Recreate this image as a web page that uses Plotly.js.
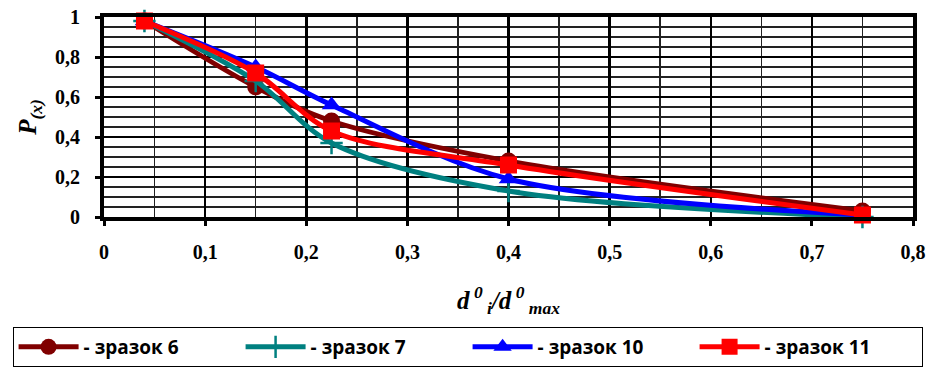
<!DOCTYPE html>
<html>
<head>
<meta charset="utf-8">
<script src="https://cdn.plot.ly/plotly-3.0.1.min.js"></script>
<style>html,body{margin:0;padding:0;background:#fff;}#chart{width:931px;height:367px;}</style>
</head>
<body>
<div id="chart"></div>
<script>
const xValues = [0.04, 0.15, 0.225, 0.4, 0.75];
const sample6 = [0.98, 0.65, 0.48, 0.28, 0.03];
const sample7 = [0.98, 0.68, 0.37, 0.13, 0.00];
const sample10 = [0.98, 0.75, 0.56, 0.19, 0.01];
const sample11 = [0.98, 0.72, 0.43, 0.26, 0.01];
const seriesNames = ['- зразок 6', '- зразок 7', '- зразок 10', '- зразок 11'];
const xTickVals = [0, 0.1, 0.2, 0.3, 0.4, 0.5, 0.6, 0.7, 0.8];
const yTickVals = [0, 0.2, 0.4, 0.6, 0.8, 1];

function tr(y, name, color, symbol, size, mline) {
  return {
    x: xValues, y: y, name: name, type: 'scatter', mode: 'lines+markers',
    line: {color: color, width: 5, shape: 'spline', smoothing: 0.9},
    marker: {symbol: symbol, size: size, color: color, line: mline || {width: 0}},
    cliponaxis: false
  };
}
const data = [
  tr(sample6, seriesNames[0], '#800000', 'circle', 17),
  tr(sample7, seriesNames[1], '#008080', 'cross-thin', 16, {width: 2.5, color: '#008080'}),
  tr(sample10, seriesNames[2], '#0000ff', 'triangle-up', 17),
  tr(sample11, seriesNames[3], '#ff0000', 'square', 17)
];
function serif(size) { return {family: 'Liberation Serif', size: size, color: '#000', weight: 'bold'}; }
const layout = {
  width: 931, height: 367,
  margin: {l: 104, r: 18, t: 17, b: 150, autoexpand: false},
  paper_bgcolor: '#fff', plot_bgcolor: '#fff',
  font: {family: 'Liberation Serif', size: 20, color: '#000'},
  separators: ', ',
  showlegend: true,
  xaxis: {
    range: [0, 0.8], tickvals: xTickVals,
    ticktext: xTickVals.map(v => String(v).replace('.', ',')),
    showline: true, linecolor: '#000', linewidth: 4, mirror: true,
    showgrid: true, gridcolor: '#000', gridwidth: 2.5,
    minor: {dtick: 0.05, tick0: 0, showgrid: true, gridcolor: '#222', gridwidth: 1.5},
    ticks: 'outside', ticklen: 5, tickwidth: 3, tickcolor: '#000',
    ticklabelstandoff: 9,
    tickfont: serif(20), zeroline: false,
    title: {text: '<i>d<sup> 0</sup><sub> i</sub>/d<sup> 0</sup><sub> max</sub></i>', font: serif(25), standoff: 30}
  },
  yaxis: {
    range: [0, 1], tickvals: yTickVals,
    ticktext: yTickVals.map(v => String(v).replace('.', ',')),
    showline: true, linecolor: '#000', linewidth: 4, mirror: true,
    showgrid: true, gridcolor: '#000', gridwidth: 2.5,
    minor: {dtick: 0.05, tick0: 0, showgrid: true, gridcolor: '#222', gridwidth: 1.5},
    ticks: 'outside', ticklen: 5, tickwidth: 3, tickcolor: '#000',
    ticklabelstandoff: 11,
    tickfont: serif(20), zeroline: false,
    title: {text: '<i>P<sub>(x)</sub></i>', font: serif(25), standoff: 12}
  },
  legend: {
    orientation: 'h', xref: 'paper', yref: 'paper',
    x: -0.113, xanchor: 'left', y: -0.55, yanchor: 'top',
    bordercolor: '#000', borderwidth: 1, bgcolor: '#fff',
    font: {family: 'Open Sans', size: 19, color: '#000', weight: 'bold'},
    entrywidth: 152, entrywidthmode: 'pixels', itemwidth: 60, traceorder: 'normal'
  }
};
Plotly.newPlot('chart', data, layout, {displayModeBar: false, staticPlot: true});
</script>
</body>
</html>
